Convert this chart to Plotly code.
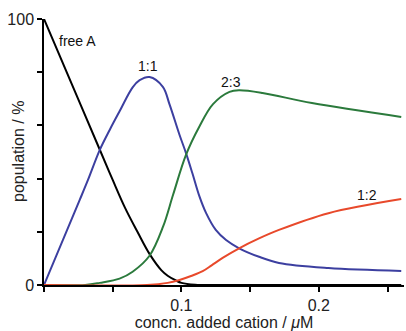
import plotly.graph_objects as go

# ---- data ----
free_x = [0, 0.02, 0.04, 0.05, 0.059, 0.068, 0.077, 0.0855, 0.09, 0.096, 0.1, 0.11, 0.13, 0.26]
free_y = [100, 75.8, 51.6, 39.5, 29, 20, 11.5, 5.5, 3.5, 1.7, 0.8, 0.1, 0, 0]

c11_x = [0, 0.026, 0.032, 0.0406, 0.0478, 0.055, 0.0645, 0.0696, 0.0768, 0.0865, 0.0913, 0.0986,
         0.1034, 0.108, 0.113, 0.118, 0.125, 0.1325, 0.142, 0.1565, 0.171, 0.207, 0.26]
c11_y = [0, 32, 39.5, 50.8, 58.3, 65.3, 74.3, 77, 78.2, 74.5, 68, 56.5,
         49.5, 42, 33.5, 27, 20.7, 16.9, 13.8, 10.6, 8.3, 6.4, 5.3]

c23_x = [0, 0.03, 0.0406, 0.055, 0.0645, 0.0768, 0.0867, 0.094, 0.1034, 0.113, 0.123, 0.135,
         0.142, 0.159, 0.195, 0.26]
c23_y = [0, 0, 0.8, 2.4, 5, 11, 22, 34, 49, 59.5, 68, 72.6,
         73.2, 72.2, 68.4, 63.2]

c12_x = [0, 0.075, 0.09, 0.0986, 0.107, 0.1155, 0.122, 0.13, 0.142, 0.1565, 0.171, 0.207, 0.26]
c12_y = [0, 0, 0.8, 1.9, 3.4, 5.2, 7.4, 10.2, 13.8, 17.5, 20.7, 27, 32.3]

series_names = ["free A", "1:1", "2:3", "1:2"]
label_x = [0.0246, 0.0754, 0.136, 0.235]
label_y = [91.7, 82.5, 76.3, 33.8]

x_tickvals = [0, 0.05, 0.1, 0.15, 0.2, 0.25]
x_ticktext = ["", "", "0.1", "", "0.2", ""]
y_tickvals = [0, 20, 40, 60, 80, 100]
y_ticktext = ["0", "", "", "", "", "100"]

colors = ["#000000", "#3c3fa0", "#2b7a3c", "#e8492b"]
FONT = "Liberation Sans, Arial, sans-serif"

fig = go.Figure()
for xs, ys, col, name in zip([free_x, c11_x, c23_x, c12_x],
                             [free_y, c11_y, c23_y, c12_y],
                             colors, series_names):
    fig.add_trace(go.Scatter(x=xs, y=ys, mode="lines", name=name,
                             line=dict(color=col, width=2, shape="spline", smoothing=1.0),
                             showlegend=False))

for lx, ly, name in zip(label_x, label_y, series_names):
    fig.add_annotation(x=lx, y=ly, text=name, showarrow=False,
                       font=dict(family=FONT, size=14, color="#111"))

# y-axis title as rotated annotation
fig.add_annotation(xref="paper", yref="paper", x=0, y=0.5, xshift=-26,
                   xanchor="center", yanchor="middle",
                   text="population / %", textangle=-90, showarrow=False,
                   font=dict(family=FONT, size=16, color="#222"))

fig.update_layout(
    width=406, height=331,
    margin=dict(l=44, r=2, t=19, b=46),
    plot_bgcolor="white", paper_bgcolor="white",
    font=dict(family=FONT, size=16, color="#222"),
    xaxis=dict(range=[0, 0.262], tickvals=x_tickvals, ticktext=x_ticktext,
               ticks="outside", ticklen=5, tickwidth=1.5, tickcolor="#000",
               showline=True, linecolor="#000", linewidth=1.5, showgrid=False,
               zeroline=False, tickfont=dict(size=16),
               title=dict(text="concn. added cation / <i>μ</i>M", standoff=0,
                          font=dict(size=16, color="#222"))),
    yaxis=dict(range=[0, 100], tickvals=y_tickvals, ticktext=y_ticktext,
               ticks="outside", ticklen=5, tickwidth=1.5, tickcolor="#000",
               showline=True, linecolor="#000", linewidth=1.5, showgrid=False,
               zeroline=False, tickfont=dict(size=16)),
)

fig.write_html("out.html")
